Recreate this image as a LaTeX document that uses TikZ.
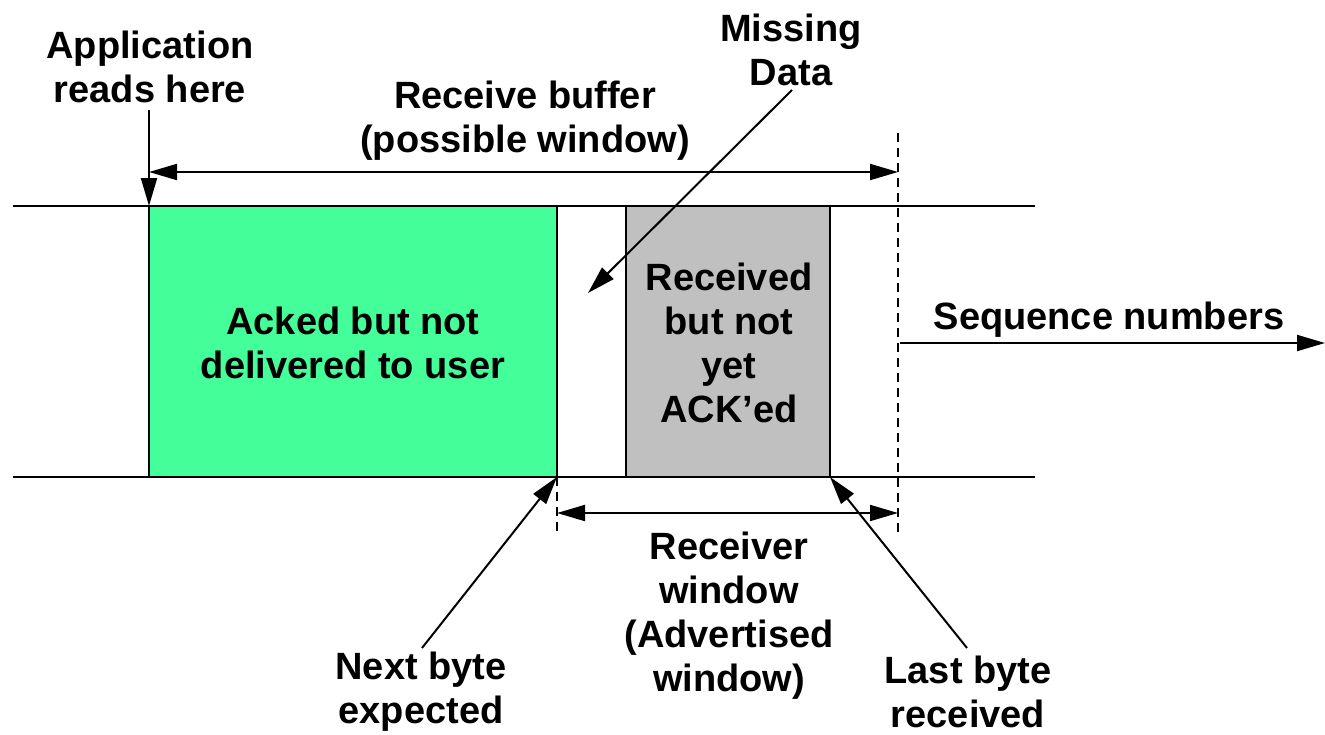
\documentclass[tikz,border=0pt]{standalone}
\usepackage{fontspec}
\setmainfont{Liberation Sans}
\usetikzlibrary{arrows.meta}
\definecolor{ackgreen}{RGB}{68,255,153}
\definecolor{rcvgray}{RGB}{192,192,192}

\begin{document}
\begin{tikzpicture}[x=1pt,y=-1pt,
  line width=2pt,
  tipend/.style={-{Triangle[length=28pt,width=16pt]}},
  tipboth/.style={{Triangle[length=28pt,width=16pt]}-{Triangle[length=28pt,width=16pt]}},
  lbl/.style={font=\fontsize{38}{44}\selectfont\bfseries, align=center, inner sep=0pt},
  guide/.style={dash pattern=on 9pt off 6pt, line width=1.5pt}]
\useasboundingbox (0,0) rectangle (1325,734);

% buffer regions
\draw[fill=ackgreen] (149,206) rectangle (557,477);
\draw[fill=rcvgray] (626,206) rectangle (830,477);

% sequence space boundaries
\draw (13,206) -- (1035,206);
\draw (13,477) -- (1035,477);

% guide lines
\draw[guide] (898,133) -- (898,535);
\draw[guide] (557,477) -- (557,535);

% anchor points
\coordinate (readpt) at (149,206);
\coordinate (readtop) at (149,110);
\coordinate (bufL) at (149,172);
\coordinate (bufR) at (898,172);
\coordinate (winL) at (557,513);
\coordinate (winR) at (898,513);
\coordinate (seqL) at (900,343);
\coordinate (seqR) at (1325,343);
\coordinate (missTail) at (792,90);
\coordinate (missTip) at (588,293);
\coordinate (nextTail) at (422,648);
\coordinate (nextTip) at (557,477);
\coordinate (lastTail) at (967,648);
\coordinate (lastTip) at (830,477);

% labels
\node[lbl] (app) at (150,67) {Application\\reads here};
\node[lbl] (missing) at (791,50) {Missing\\Data};
\node[lbl] (rbuf) at (525,121) {Receive buffer\\(possible window)};
\node[lbl] (acked) at (353,343) {Acked but not\\delivered to user};
\node[lbl] (recv) at (729,343) {Received\\but not\\yet\\ACK'ed};
\node[lbl] (seq) at (1109,320) {Sequence numbers};
\node[lbl] (rwin) at (729,616) {Receiver\\window\\(Advertised\\window)};
\node[lbl] (next) at (421,692) {Next byte\\expected};
\node[lbl] (last) at (968,692) {Last byte\\received};

% arrows
\draw[tipend] (readtop) -- (readpt);
\draw[tipboth] (bufL) -- (bufR);
\draw[tipboth] (winL) -- (winR);
\draw[tipend] (seqL) -- (seqR);
\draw[tipend] (missTail) -- (missTip);
\draw[tipend] (nextTail) -- (nextTip);
\draw[tipend] (lastTail) -- (lastTip);
\end{tikzpicture}
\end{document}
